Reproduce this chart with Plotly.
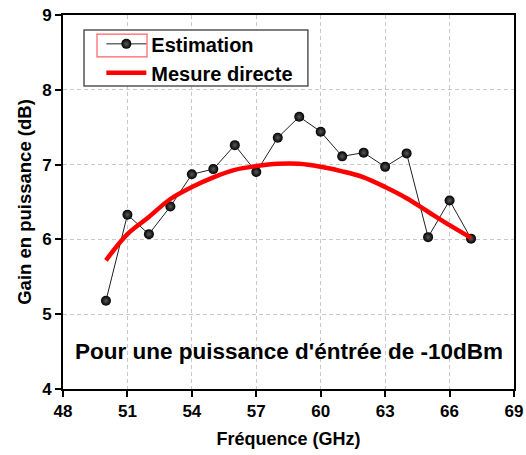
import plotly.graph_objects as go

freq_est = [50, 51, 52, 53, 54, 55, 56, 57, 58, 59, 60, 61, 62, 63, 64, 65, 66, 67]
gain_est = [5.18, 6.33, 6.07, 6.44, 6.87, 6.94, 7.26, 6.90, 7.36, 7.64, 7.44, 7.11, 7.16, 6.97, 7.15, 6.03, 6.52, 6.01]

freq_mes = [50, 51, 52, 53, 54, 55, 56, 57, 58, 59, 60, 61, 62, 63, 64, 65, 66, 67]
gain_mes = [5.72, 6.07, 6.30, 6.54, 6.70, 6.83, 6.93, 6.98, 7.01, 7.01, 6.97, 6.91, 6.83, 6.70, 6.55, 6.37, 6.19, 6.02]

x_ticks = [48, 51, 54, 57, 60, 63, 66, 69]
y_ticks = [4, 5, 6, 7, 8, 9]

FONT = "Liberation Sans, Arial, sans-serif"

fig = go.Figure()
fig.add_trace(go.Scatter(
    x=freq_est, y=gain_est, mode="lines+markers", name="Estimation",
    line=dict(color="#222222", width=1),
    marker=dict(size=10, color="black", gradient=dict(type="radial", color="#5a5a5a"),
                line=dict(width=0)),
))
fig.add_trace(go.Scatter(
    x=freq_mes, y=gain_mes, mode="lines", name="Mesure directe",
    line=dict(color="#ff0000", width=4.5, shape="spline"),
))

axis_common = dict(
    showline=True, linecolor="black", linewidth=2, mirror=True,
    ticks="outside", ticklen=6, tickwidth=2, tickcolor="black",
    showgrid=True, gridcolor="#c8c8c8", griddash="4px,3px", gridwidth=1,
    zeroline=False, automargin=False,
    tickfont=dict(family=FONT, size=17, color="black", weight="bold"),
)

# legend frame (white background + grey border) and the red selection box
shapes = [
    dict(type="rect", xref="paper", yref="paper", x0=0.0466, x1=0.543, y0=0.810, y1=0.960,
         fillcolor="white", line=dict(color="#555555", width=1.5), layer="above"),
    dict(type="rect", xref="paper", yref="paper", x0=0.0754, x1=0.1863, y0=0.888, y1=0.949,
         fillcolor="rgba(0,0,0,0)", line=dict(color="#ff6060", width=1.2), layer="above"),
]

fig.update_layout(
    width=526, height=455,
    margin=dict(l=63, r=12, t=15, b=66),
    paper_bgcolor="white", plot_bgcolor="white",
    font=dict(family=FONT, color="black"),
    xaxis=dict(range=[48, 69], tickvals=x_ticks, **axis_common,
               title=dict(text="<b>Fréquence (GHz)</b>", font=dict(family=FONT, size=18), standoff=12)),
    yaxis=dict(range=[4, 9], tickvals=y_ticks, **axis_common,
               title=dict(text="<b>Gain en puissance (dB)</b>", font=dict(family=FONT, size=18.5), standoff=6)),
    legend=dict(x=0.085, y=0.975, xanchor="left", yanchor="top",
                borderwidth=0, bgcolor="rgba(0,0,0,0)",
                font=dict(family=FONT, size=20, color="black", weight="bold"),
                tracegroupgap=0, itemwidth=40),
    showlegend=True,
    shapes=shapes,
    annotations=[dict(
        x=0.5, y=0.100, xref="paper", yref="paper", xanchor="center", yanchor="middle",
        text="<b>Pour une puissance d'éntrée de -10dBm</b>", showarrow=False,
        font=dict(family=FONT, size=22.5, color="black"),
    )],
)

fig.write_html("out.html", config={"displayModeBar": False},
               post_script="document.body.style.margin='0';document.body.style.padding='0';")
